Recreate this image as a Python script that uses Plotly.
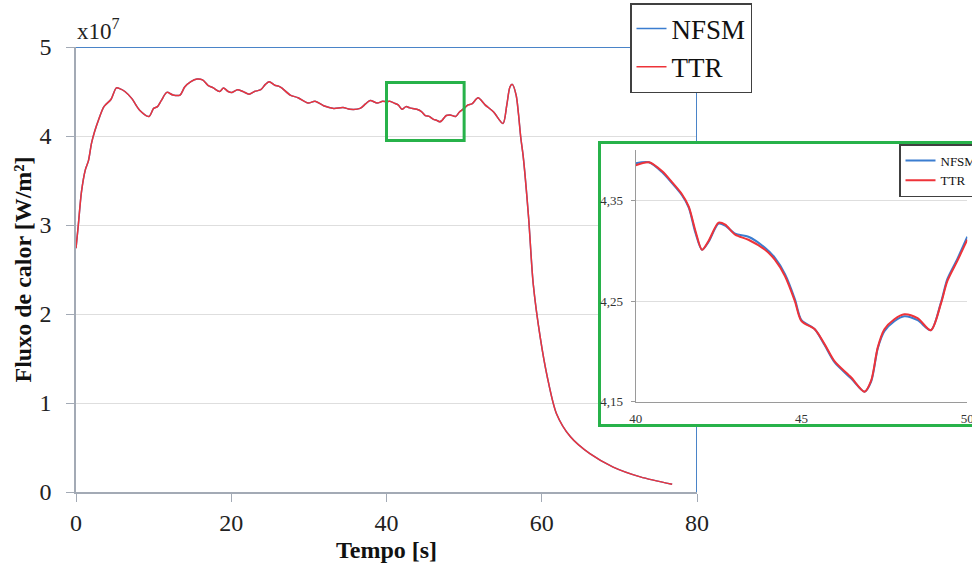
import plotly.graph_objects as go

# ---------------- data (heat flux in units of 1e7 W/m^2) ----------------
time_main = [0.0, 0.3, 0.7, 1.2, 1.6, 2.0, 2.4, 2.9, 3.6, 4.5, 5.2, 5.7, 6.3, 7.2, 8.2, 9.4,
             10.0, 10.5, 11.0, 11.7, 12.5, 13.4, 14.0, 14.8, 15.6, 16.3, 17.0, 17.7, 18.5,
             19.0, 19.6, 20.1, 20.8, 21.5, 22.3, 23.0, 23.8, 24.4, 24.9, 25.6, 26.1, 26.5,
             27.6, 28.6, 29.9, 30.8, 31.9, 33.2, 34.4, 35.3, 36.6, 37.3, 37.9, 38.8, 39.5,
             40.0, 40.4, 41.0, 41.5, 42.0, 42.5, 43.0, 43.9, 44.5, 45.0, 45.5, 46.0, 46.5,
             46.9, 47.2, 47.7, 48.2, 48.9, 49.4, 50.0, 50.5, 51.0, 51.8, 52.7, 53.8, 55.0,
             55.5, 55.9, 56.2, 56.7, 57.0, 57.3, 57.6, 58.3, 58.9, 59.8, 60.7, 61.9, 63.7,
             66.2, 69.2, 72.7, 76.8]
ttr_main = [2.74, 3.00, 3.37, 3.62, 3.72, 3.92, 4.05, 4.18, 4.33, 4.41, 4.54, 4.53, 4.50, 4.42,
            4.29, 4.22, 4.31, 4.33, 4.40, 4.49, 4.46, 4.46, 4.55, 4.61, 4.64, 4.63, 4.57, 4.54,
            4.50, 4.54, 4.50, 4.49, 4.52, 4.50, 4.47, 4.50, 4.52, 4.58, 4.61, 4.57, 4.56, 4.54,
            4.46, 4.43, 4.37, 4.39, 4.34, 4.31, 4.32, 4.30, 4.31, 4.36, 4.40, 4.37, 4.39,
            4.385, 4.39, 4.37, 4.35, 4.30, 4.33, 4.316, 4.30, 4.275, 4.23, 4.22, 4.19, 4.174,
            4.16, 4.18, 4.23, 4.237, 4.22, 4.27, 4.31, 4.35, 4.36, 4.43, 4.35, 4.27, 4.14,
            4.35, 4.55, 4.58, 4.46, 4.25, 3.98, 3.78, 3.09, 2.34, 1.74, 1.30, 0.88, 0.62,
            0.43, 0.28, 0.17, 0.087]
nfsm_main = list(ttr_main)

time_zoom = [40.0, 40.4, 40.8, 41.1, 41.4, 41.6, 41.8, 42.0, 42.2, 42.5, 42.7, 43.0, 43.4,
             43.9, 44.2, 44.5, 44.8, 45.0, 45.4, 45.7, 46.0, 46.5, 46.9, 47.1, 47.3, 47.5,
             47.8, 48.1, 48.5, 48.9, 49.2, 49.4, 49.7, 50.0]
ttr_zoom = [4.385, 4.388, 4.379, 4.368, 4.356, 4.344, 4.320, 4.301, 4.310, 4.328, 4.326,
            4.316, 4.311, 4.301, 4.291, 4.275, 4.250, 4.230, 4.222, 4.207, 4.190, 4.174,
            4.160, 4.171, 4.204, 4.222, 4.232, 4.237, 4.233, 4.221, 4.247, 4.270, 4.290, 4.311]
nfsm_zoom = [4.387, 4.388, 4.378, 4.367, 4.355, 4.343, 4.318, 4.301, 4.309, 4.327, 4.325,
             4.317, 4.314, 4.303, 4.293, 4.277, 4.252, 4.231, 4.222, 4.206, 4.189, 4.173,
             4.160, 4.170, 4.203, 4.220, 4.230, 4.235, 4.231, 4.221, 4.248, 4.272, 4.292, 4.314]

series_names = ["NFSM", "TTR"]
main_x_ticks = [0, 20, 40, 60, 80]
main_y_ticks = [0, 1, 2, 3, 4, 5]
zoom_x_ticks = [40, 45, 50]
zoom_y_ticks = [4.15, 4.25, 4.35]
zoom_y_ticktext = ["4,15", "4,25", "4,35"]
zoom_box_x = [40, 50]
zoom_box_y = [3.95, 4.6]

# ---------------- styling ----------------
W, H = 972, 567
FONT = "Liberation Serif"
BLUE = "#3b7dd0"
RED = "#ee3339"
GREEN = "#27b24a"
AXIS_GRAY = "#a3aab5"
GRID = "#dedede"
BORDER_BLUE = "#4a84c8"


def fx(p):
    return p / W


def fy(p):
    return 1 - p / H


fig = go.Figure()

line_main = dict(width=1.5, shape="spline", smoothing=0.8)
fig.add_trace(go.Scatter(x=time_main, y=nfsm_main, name=series_names[0], mode="lines",
                         line=dict(color=BLUE, **line_main), xaxis="x", yaxis="y",
                         legend="legend"))
fig.add_trace(go.Scatter(x=time_main, y=ttr_main, name=series_names[1], mode="lines",
                         line=dict(color=RED, **line_main), xaxis="x", yaxis="y",
                         legend="legend"))

line_zoom = dict(width=2, shape="spline", smoothing=0.8)
fig.add_trace(go.Scatter(x=time_zoom, y=nfsm_zoom, name=series_names[0], mode="lines",
                         line=dict(color=BLUE, **line_zoom), xaxis="x3", yaxis="y3",
                         legend="legend2"))
fig.add_trace(go.Scatter(x=time_zoom, y=ttr_zoom, name=series_names[1], mode="lines",
                         line=dict(color=RED, **line_zoom), xaxis="x3", yaxis="y3",
                         legend="legend2"))

tickfont_main = dict(family=FONT, size=24, color="#222222")
tickfont_zoom = dict(family=FONT, size=13, color="#333333")

fig.update_layout(
    width=W, height=H, autosize=False,
    margin=dict(l=0, r=0, t=0, b=0, autoexpand=False),
    paper_bgcolor="white", plot_bgcolor="white",
    font=dict(family=FONT, color="#222222"),
    xaxis=dict(domain=[fx(76), fx(697)], range=[0, 80], tickvals=main_x_ticks,
               showgrid=False, zeroline=False, showline=True, linecolor=AXIS_GRAY,
               linewidth=1.5, ticks="outside", ticklen=8, tickcolor=AXIS_GRAY,
               tickfont=tickfont_main, anchor="y",
               title=dict(text="Tempo [s]",
                          font=dict(family=FONT, size=24, weight="bold", color="#111111"),
                          standoff=7)),
    yaxis=dict(domain=[fy(492), fy(47)], range=[0, 5], tickvals=main_y_ticks,
               showgrid=True, gridcolor=GRID, zeroline=False, showline=True,
               linecolor=AXIS_GRAY, linewidth=1.5, ticks="outside", ticklen=8,
               tickcolor=AXIS_GRAY, tickfont=tickfont_main, anchor="x",
               ticklabelstandoff=10,
               title=dict(text="Fluxo de calor [W/m²]",
                          font=dict(family=FONT, size=24, weight="bold", color="#111111"),
                          standoff=1)),
    # cover panel for the inset (white fill + green frame)
    xaxis2=dict(domain=[fx(600.5), 1], range=[0, 1], anchor="y2", showgrid=False,
                zeroline=False, showticklabels=False, ticks="", showline=True, mirror=True,
                linecolor=GREEN, linewidth=2.5, fixedrange=True),
    yaxis2=dict(domain=[fy(424), fy(143.5)], range=[0, 1], anchor="x2", showgrid=False,
                zeroline=False, showticklabels=False, ticks="", showline=True,
                linecolor=GREEN, linewidth=2.5, fixedrange=True),
    # inset axes
    xaxis3=dict(domain=[fx(635.7), fx(967.3)], range=[40, 50], tickvals=zoom_x_ticks,
                anchor="y3", showgrid=False, zeroline=False, showline=True,
                linecolor="#9a9a9a", linewidth=1.2, ticks="", tickfont=tickfont_zoom,
                ticklabelstandoff=5, ticklabeloverflow="allow"),
    yaxis3=dict(domain=[fy(401.7), fy(150.2)], range=[4.15, 4.40], tickvals=zoom_y_ticks,
                ticktext=zoom_y_ticktext, anchor="x3", showgrid=True, gridcolor=GRID,
                zeroline=False, showline=True, linecolor="#9a9a9a", linewidth=1.2,
                ticks="outside", ticklen=4, tickcolor="#9a9a9a", tickfont=tickfont_zoom,
                ticklabelstandoff=5, ticklabeloverflow="allow"),
    legend=dict(x=fx(630), y=fy(3), xanchor="left", yanchor="top", bgcolor="white",
                bordercolor="#404040", borderwidth=1.5, itemwidth=30,
                font=dict(family=FONT, size=27, color="#111111"), tracegroupgap=0),
    legend2=dict(x=fx(899), y=fy(144), xanchor="left", yanchor="top", bgcolor="white",
                 bordercolor="#404040", borderwidth=1.5, itemwidth=30,
                 font=dict(family=FONT, size=13, color="#111111"), tracegroupgap=0),
    showlegend=True,
)

# main plot top / right border (blue)
fig.add_shape(type="line", xref="x", yref="y", x0=0, x1=80, y0=5, y1=5, layer="between",
              line=dict(color=BORDER_BLUE, width=2))
fig.add_shape(type="line", xref="x", yref="y", x0=80, x1=80, y0=0, y1=5, layer="between",
              line=dict(color=BORDER_BLUE, width=2))

# white background of the inset panel
fig.add_shape(type="rect", xref="x2", yref="y2", x0=0, x1=1, y0=0, y1=1, layer="below",
              fillcolor="white", line=dict(width=0))

# zoom window marker on main plot
fig.add_shape(type="rect", xref="x", yref="y", x0=zoom_box_x[0], x1=zoom_box_x[1],
              y0=zoom_box_y[0], y1=zoom_box_y[1], layer="above",
              line=dict(color=GREEN, width=3), fillcolor="rgba(0,0,0,0)")

fig.add_annotation(text="x10<sup>7</sup>", xref="paper", yref="paper", x=fx(75), y=fy(46),
                   xanchor="left", yanchor="bottom", showarrow=False,
                   font=dict(family=FONT, size=23, color="#222222"))

fig.write_html("out.html", config={"displayModeBar": False},
               post_script="document.body.style.margin='0';")
